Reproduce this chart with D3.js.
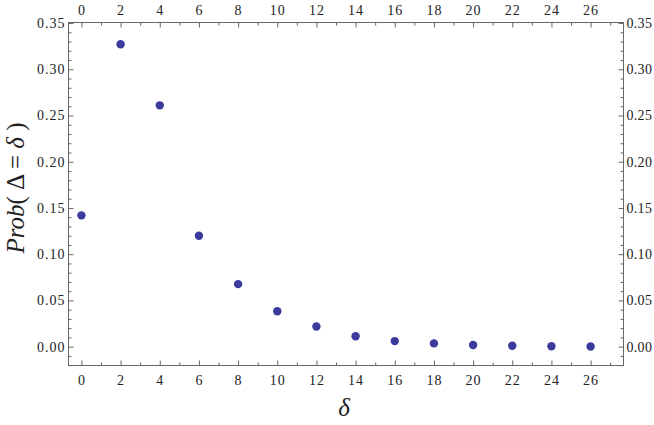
<!DOCTYPE html>
<html><head><meta charset="utf-8">
<script src="https://cdn.jsdelivr.net/npm/d3@7"></script>
<style>body{margin:0;background:#fff}svg{display:block}</style>
</head><body>
<script>
const deltas = [0,2,4,6,8,10,12,14,16,18,20,22,24,26];
const probs = [0.142,0.327,0.261,0.120,0.0676,0.0382,0.0218,0.0112,0.0060,0.0035,0.0018,0.0009,0.0004,0.0002];
const xTicks = [0,2,4,6,8,10,12,14,16,18,20,22,24,26];
const yTicks = [0,0.05,0.10,0.15,0.20,0.25,0.30,0.35];

const W=654,H=425;
const L=68.5,R=623.5,T=22.5,B=365.5;
const svg=d3.select("body").append("svg").attr("width",W).attr("height",H);
const x=d3.scaleLinear().domain([-0.66,27.68]).range([L,R]);
const y=d3.scaleLinear().domain([-0.0204,0.3506]).range([B,T]);
const serif="'Liberation Serif'";
const frame="#666";

const xMinor=d3.range(0,28,1).filter(v=>v%2!==0);
const yMinor=d3.range(-2,36,1).filter(v=>v%5!==0).map(v=>v/100);

function styleAxis(g, ls){
  g.attr("font-family",null).attr("font-size",null);
  g.select(".domain").remove();
  g.selectAll("line").attr("stroke",frame).attr("stroke-width",1);
  g.selectAll("text").style("font-family",serif).style("font-size","14px").style("letter-spacing",(ls||1.0)+"px").attr("fill","#222");
}
// bottom
svg.append("g").attr("transform",`translate(0,${B})`)
  .call(d3.axisBottom(x).tickValues(xTicks).tickFormat(d3.format("d")).tickSizeInner(-5).tickSizeOuter(0).tickPadding(10))
  .call(styleAxis);
svg.append("g").attr("transform",`translate(0,${B})`)
  .call(d3.axisBottom(x).tickValues(xMinor).tickFormat("").tickSizeInner(-3).tickSizeOuter(0))
  .call(styleAxis);
// top
svg.append("g").attr("transform",`translate(0,${T})`)
  .call(d3.axisTop(x).tickValues(xTicks).tickFormat(d3.format("d")).tickSizeInner(-5).tickSizeOuter(0).tickPadding(8))
  .call(styleAxis);
svg.append("g").attr("transform",`translate(0,${T})`)
  .call(d3.axisTop(x).tickValues(xMinor).tickFormat("").tickSizeInner(-3).tickSizeOuter(0))
  .call(styleAxis);
// left
svg.append("g").attr("transform",`translate(${L},0)`)
  .call(d3.axisLeft(y).tickValues(yTicks).tickFormat(d3.format(".2f")).tickSizeInner(-5).tickSizeOuter(0).tickPadding(3))
  .call(g=>styleAxis(g,1.0));
svg.append("g").attr("transform",`translate(${L},0)`)
  .call(d3.axisLeft(y).tickValues(yMinor).tickFormat("").tickSizeInner(-3).tickSizeOuter(0))
  .call(styleAxis);
// right
svg.append("g").attr("transform",`translate(${R},0)`)
  .call(d3.axisRight(y).tickValues(yTicks).tickFormat(d3.format(".2f")).tickSizeInner(-5).tickSizeOuter(0).tickPadding(3))
  .call(g=>styleAxis(g,0.3));
svg.append("g").attr("transform",`translate(${R},0)`)
  .call(d3.axisRight(y).tickValues(yMinor).tickFormat("").tickSizeInner(-3).tickSizeOuter(0))
  .call(styleAxis);

// frame
svg.append("rect").attr("x",L).attr("y",T).attr("width",R-L).attr("height",B-T)
  .attr("fill","none").attr("stroke",frame).attr("stroke-width",1);

// points
svg.append("g").selectAll("circle").data(deltas.map((d,i)=>[d,probs[i]])).join("circle")
  .attr("cx",d=>x(d[0])).attr("cy",d=>y(d[1])).attr("r",4.2).attr("fill","#3b3b9e");

// x label
svg.append("text").attr("x",344).attr("y",416).attr("text-anchor","middle")
  .style("font-family",serif).style("font-size","25px").style("font-style","italic").attr("fill","#222").text("δ");
// y label
const yl=svg.append("text").attr("transform","translate(24,188) rotate(-90)").attr("text-anchor","middle")
  .style("font-family",serif).style("font-size","25px").attr("fill","#222");
yl.append("tspan").style("font-style","italic").text("Prob");
yl.append("tspan").text("( Δ = ");
yl.append("tspan").style("font-style","italic").text("δ");
yl.append("tspan").text(" )");
</script>
</body></html>
